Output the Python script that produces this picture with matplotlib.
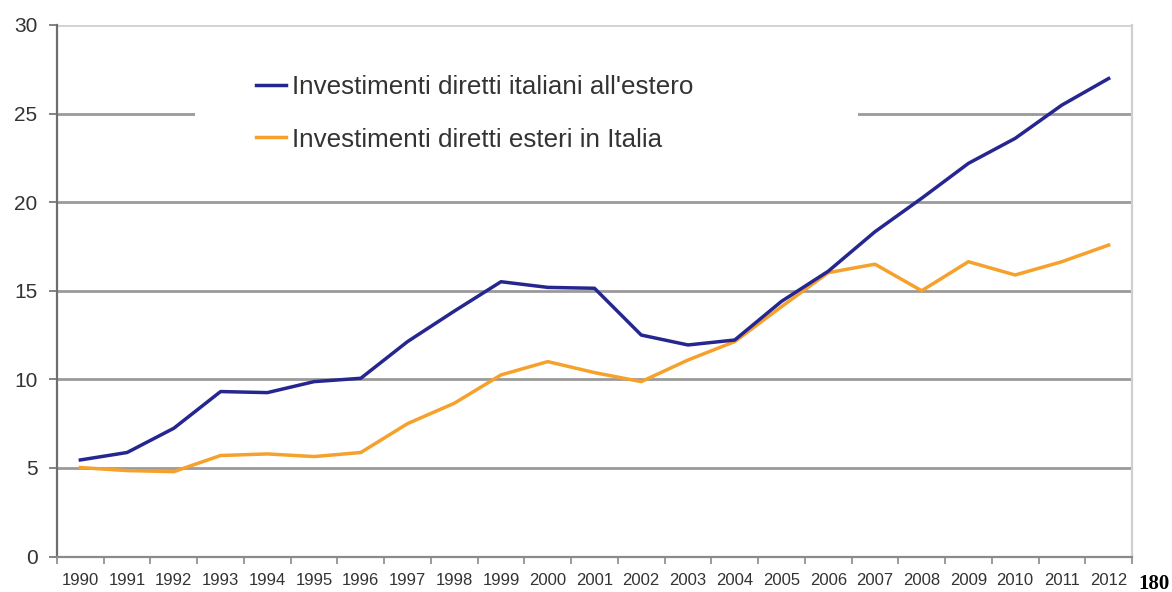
import matplotlib
matplotlib.use("Agg")
import matplotlib.pyplot as plt
from matplotlib.patches import Rectangle
import numpy as np

years = [str(y) for y in range(1990, 2013)]
ide_italiani_estero = [5.45, 5.87, 7.24, 9.31, 9.25, 9.87, 10.06, 12.13, 13.85, 15.51,
                       15.19, 15.14, 12.5, 11.94, 12.22, 14.4, 16.1, 18.33, 20.22,
                       22.19, 23.6, 25.48, 26.98]
ide_esteri_italia = [5.02, 4.85, 4.79, 5.70, 5.79, 5.64, 5.87, 7.5, 8.65, 10.25,
                     11.0, 10.38, 9.87, 11.09, 12.13, 14.1, 16.02, 16.5, 15.0,
                     16.64, 15.89, 16.64, 17.58]
y_ticks = [0, 5, 10, 15, 20, 25, 30]
label_it = "Investimenti diretti italiani all'estero"
label_est = "Investimenti diretti esteri in Italia"
page_number = "180"

W, H = 1172, 592
fig = plt.figure(figsize=(W / 100, H / 100), dpi=100)
ax = fig.add_axes([57 / W, 1 - 556.5 / H, (1132 - 57) / W, (556.5 - 25) / H])

x = np.arange(len(years))
ax.set_xlim(-0.5, len(years) - 0.5)
ax.set_ylim(0, 30)

# horizontal grid
for v in y_ticks[1:]:
    col = "#d2d2d2" if v == y_ticks[-1] else "#9a9a9a"
    ax.axhline(v, color=col, lw=2.0, zorder=1)

# white panel behind the legend
ax.add_patch(Rectangle((195 / W, 1 - 165 / H), (858 - 195) / W, 105 / H,
                       transform=fig.transFigure, facecolor="white",
                       edgecolor="none", zorder=2))

ax.plot(x, ide_italiani_estero, color="#262690", lw=2.5, zorder=4,
        label=label_it, solid_joinstyle="round")
ax.plot(x, ide_esteri_italia, color="#f5a12c", lw=2.5, zorder=3,
        label=label_est, solid_joinstyle="round")

# spines
ax.spines["top"].set_visible(False)
ax.spines["left"].set_color("#6e6e6e")
ax.spines["left"].set_linewidth(1.6)
ax.spines["bottom"].set_color("#8a8a8a")
ax.spines["bottom"].set_linewidth(1.6)
ax.spines["right"].set_color("#cfcfcf")
ax.spines["right"].set_linewidth(1.6)

# y axis
ax.set_yticks(y_ticks)
ax.set_yticklabels([str(v) for v in y_ticks], fontsize=15,
                   fontfamily="Liberation Sans", color="#333333")
ax.tick_params(axis="y", length=6, width=1.2, color="#6e6e6e", pad=8)

# x axis: labels at centres, tick marks at category boundaries
ax.set_xticks(x)
ax.set_xticklabels(years, fontsize=12, fontfamily="Liberation Sans",
                   color="#333333")
ax.tick_params(axis="x", which="major", length=0, pad=12)
ax.set_xticks(np.arange(-0.5, len(years)), minor=True)
ax.tick_params(axis="x", which="minor", length=5, width=1.2, color="#8a8a8a")

leg = ax.legend(loc="upper left", bbox_to_anchor=(256 / W, 1 - 75 / H),
                bbox_transform=fig.transFigure, frameon=False,
                prop={"family": "Liberation Sans", "size": 18.7},
                handlelength=1.15, handletextpad=0.25, labelspacing=1.1,
                borderpad=0, borderaxespad=0)
for t in leg.get_texts():
    t.set_color("#333333")
leg.set_zorder(5)

fig.text(1154 / W, 1 - 584 / H, page_number, ha="center", va="center",
         fontsize=15, fontweight="bold", fontfamily="Liberation Serif",
         color="black")

fig.savefig("out.png", dpi=100, facecolor="white")
